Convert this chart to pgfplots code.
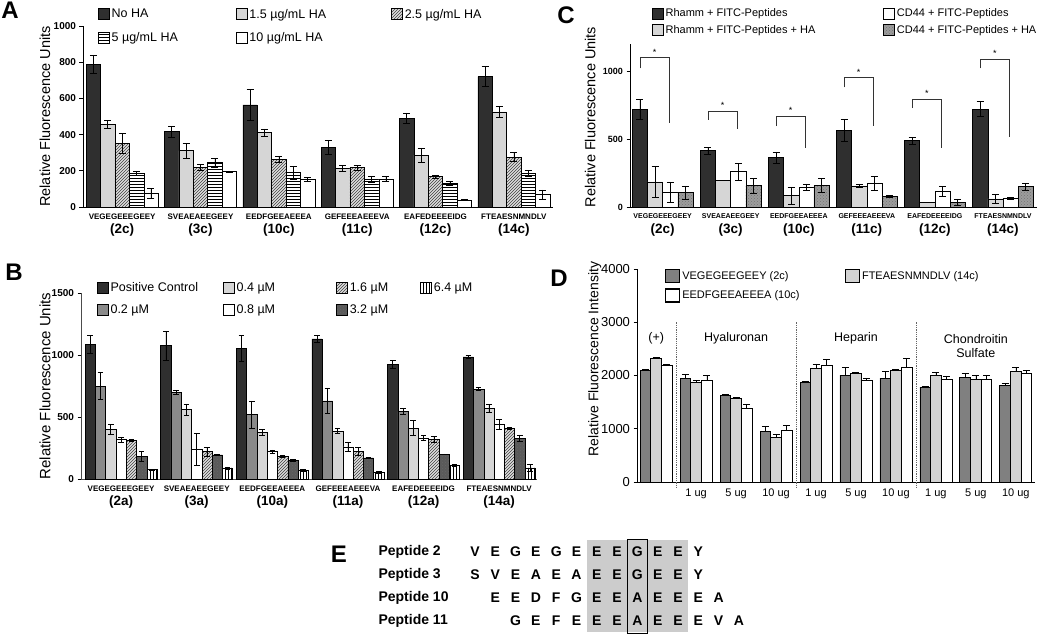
\documentclass[border=0pt]{standalone}
\usepackage{fontspec}
\setmainfont{Liberation Sans}
\usepackage{pgfplots}
\usepackage{pgfplotstable}
\pgfplotsset{compat=1.18}
\usetikzlibrary{patterns}

\definecolor{dk}{HTML}{2F2F2F}
\definecolor{lg}{HTML}{D6D6D6}
\definecolor{mg}{HTML}{8A8A8A}
\definecolor{dg}{HTML}{5A5A5A}
\definecolor{cg}{HTML}{9C9C9C}
\definecolor{dD}{HTML}{808080}
\definecolor{lD}{HTML}{D2D2D2}

\newcommand\pep[1]{{\fontsize{8}{8}\selectfont\bfseries #1}}
\newcommand\pepc[1]{{\fontsize{7}{7}\selectfont\bfseries #1}}
\newcommand\grp[1]{{\fontsize{13.5}{13.5}\selectfont\bfseries #1}}

\pgfplotsset{
  sqleg/.style={legend image code/.code={\draw[##1,line width=0.6pt] (0pt,-5.5pt) rectangle (11pt,5.5pt);}},
  sqlegD/.style={legend image code/.code={\draw[##1,line width=1.4pt] (0pt,-6.5pt) rectangle (14pt,6.5pt);}},
  eb/.style={/pgfplots/error bars/y dir=#1, /pgfplots/error bars/y explicit,
     /pgfplots/error bars/error mark=|,
     /pgfplots/error bars/error bar style={black, line width=0.6pt},
     /pgfplots/error bars/error mark options={black, line width=0.6pt, mark size=3.5pt}},
  bars/.style={ybar, bar width=#1, bar shift=0pt, draw=black, line width=0.5pt, sqleg, eb=both},
  base/.style={scale only axis, axis lines*=left, ymin=0, clip=false,
     axis line style={black, line width=0.7pt},
     tick align=outside, major tick length=3.5pt,
     xtick style={draw=none}, ytick style={black, line width=0.6pt},
     /pgf/number format/assume math mode=true,
     /pgf/number format/1000 sep={},
     legend cell align=left,
     legend style={draw=none, fill=none, inner sep=0pt, outer sep=0pt, anchor=north west},
     xticklabel style={align=center, font=\fontsize{8}{14}\selectfont},
     ylabel style={anchor=center, font=\fontsize{14.5}{14.5}\selectfont},
  },
}

\pgfplotstableread{
g a ae b be c ce d de e ee
0 790 50 457 20 352 55 185 12 75 28
1 416 30 311 40 220 15 245 25 195 3
2 564 85 411 20 263 18 190 35 153 12
3 330 40 213 15 217 15 152 18 155 15
4 490 30 287 40 168 8 131 12 38 3
5 720 55 525 30 275 25 185 15 70 25
}\tA

\pgfplotstableread{
g pc pce p2 p2e p4 p4e p8 p8e p16 p16e p32 p32e p64 p64e
0 1085 75 750 110 400 40 320 20 310 8 180 40 75 5
1 1075 120 700 15 560 45 240 130 220 35 195 5 90 8
2 1055 105 520 110 375 25 220 15 180 8 150 6 70 6
3 1130 25 630 100 385 20 260 40 225 30 170 5 55 5
4 925 30 545 25 410 60 330 20 320 25 200 3 110 5
5 985 10 725 12 570 30 440 40 410 8 330 25 90 25
}\tB

\pgfplotstableread{
g r re rh rhe c ce ch che
0 720 75 185 115 110 75 105 50
1 415 25 195 0 260 60 158 55
2 365 40 83 65 145 25 158 50
3 565 80 156 8 175 50 80 8
4 490 25 35 0 115 35 35 25
5 720 55 60 30 63 5 150 25
}\tC

\pgfplotstableread{
g a ae b be c ce
0 2090 30 2325 15 2194 15
1 1944 70 1875 30 1906 90
2 1619 30 1562 20 1375 85
3 950 95 838 60 969 95
4 1875 10 2138 80 2181 125
5 2006 140 2031 25 1900 45
6 1950 120 2088 30 2156 165
7 1781 10 2000 55 1919 75
8 1956 90 1931 65 1931 65
9 1813 35 2069 90 2044 50
}\tD

\begin{document}
\begin{tikzpicture}[x=1pt,y=1pt]
\path[use as bounding box] (0,0) rectangle (1050,641);

% ---------------- Panel A
\begin{axis}[base, at={(83pt,434pt)}, anchor=south west, width=470pt, height=181pt,
 xmin=-0.5, xmax=5.5, ymax=1000, ytick={0,200,...,1000},
 yticklabel style={font=\fontsize{10}{10}\selectfont\bfseries},
 xtick={0,...,5},
 xticklabels={{\pep{VEGEGEEEGEEY}\\\grp{(2c)}},{\pep{SVEAEAEEGEEY}\\\grp{(3c)}},{\pep{EEDFGEEAEEEA}\\\grp{(10c)}},{\pep{GEFEEEAEEEVA}\\\grp{(11c)}},{\pep{EAFEDEEEEIDG}\\\grp{(12c)}},{\pep{FTEAESNMNDLV}\\\grp{(14c)}}},
 ylabel={Relative Fluorescence Units}, ylabel style={at={(axis description cs:-0.081,0.5)}},
 legend columns=3,
 legend style={at={(0.032,1.105)}, font=\fontsize{12.5}{12.5}\selectfont, row sep=9pt,
   /tikz/column 2/.style={column sep=56pt}, /tikz/column 4/.style={column sep=63pt}},
]
\addplot[bars=0.184, fill=dk] table[x expr=\thisrow{g}-0.368,y=a,y error=ae]{\tA};
\addlegendentry{No HA}
\addplot[bars=0.184, fill=lg] table[x expr=\thisrow{g}-0.184,y=b,y error=be]{\tA};
\addlegendentry{1.5 µg/mL HA}
\addplot[bars=0.184, fill=lg!80, postaction={pattern=north east lines, pattern color=black!75}] table[x expr=\thisrow{g},y=c,y error=ce]{\tA};
\addlegendentry{2.5 µg/mL HA}
\addplot[bars=0.184, fill=white, postaction={pattern=horizontal lines}] table[x expr=\thisrow{g}+0.184,y=d,y error=de]{\tA};
\addlegendentry{5 µg/mL HA}
\addplot[bars=0.184, fill=white] table[x expr=\thisrow{g}+0.368,y=e,y error=ee]{\tA};
\addlegendentry{10 µg/mL HA}
\end{axis}
\node[font=\fontsize{24}{24}\selectfont\bfseries] at (10,631) {A};

% ---------------- Panel B
\begin{axis}[base, at={(81pt,162pt)}, anchor=south west, width=456pt, height=186pt,
 xmin=-0.53, xmax=5.5, ymax=1500, ytick={0,500,1000,1500},
 axis line style={black!70, line width=0.7pt},
 yticklabel style={font=\fontsize{10}{10}\selectfont\bfseries},
 xtick={0,...,5},
 xticklabels={{\pep{VEGEGEEEGEEY}\\\grp{(2a)}},{\pep{SVEAEAEEGEEY}\\\grp{(3a)}},{\pep{EEDFGEEAEEEA}\\\grp{(10a)}},{\pep{GEFEEEAEEEVA}\\\grp{(11a)}},{\pep{EAFEDEEEEIDG}\\\grp{(12a)}},{\pep{FTEAESNMNDLV}\\\grp{(14a)}}},
 ylabel={Relative Fluorescence Units}, ylabel style={at={(axis description cs:-0.079,0.5)}, font=\fontsize{15}{15}\selectfont},
 legend columns=4,
 legend style={at={(0.035,1.065)}, font=\fontsize{12.5}{12.5}\selectfont, row sep=7pt,
   /tikz/column 2/.style={column sep=23pt}, /tikz/column 4/.style={column sep=59pt}, /tikz/column 6/.style={column sep=30pt}},
]
\addplot[bars=0.136, fill=dk, /pgfplots/error bars/error mark options={black,line width=0.6pt,mark size=2.8pt}] table[x expr=\thisrow{g}-0.408,y=pc,y error=pce]{\tB};
\addlegendentry{Positive Control}
\addplot[bars=0.136, fill=lg, /pgfplots/error bars/error mark options={black,line width=0.6pt,mark size=2.8pt}] table[x expr=\thisrow{g}-0.136,y=p4,y error=p4e]{\tB};
\addlegendentry{0.4 µM}
\addplot[bars=0.136, fill=lg!80, postaction={pattern=north east lines, pattern color=black!75}, /pgfplots/error bars/error mark options={black,line width=0.6pt,mark size=2.8pt}] table[x expr=\thisrow{g}+0.136,y=p16,y error=p16e]{\tB};
\addlegendentry{1.6 µM}
\addplot[bars=0.136, fill=white, postaction={pattern=vertical lines}, /pgfplots/error bars/error mark options={black,line width=0.6pt,mark size=2.8pt}] table[x expr=\thisrow{g}+0.408,y=p64,y error=p64e]{\tB};
\addlegendentry{6.4 µM}
\addplot[bars=0.136, fill=mg, /pgfplots/error bars/error mark options={black,line width=0.6pt,mark size=2.8pt}] table[x expr=\thisrow{g}-0.272,y=p2,y error=p2e]{\tB};
\addlegendentry{0.2 µM}
\addplot[bars=0.136, fill=white, /pgfplots/error bars/error mark options={black,line width=0.6pt,mark size=2.8pt}] table[x expr=\thisrow{g},y=p8,y error=p8e]{\tB};
\addlegendentry{0.8 µM}
\addplot[bars=0.136, fill=dg, postaction={pattern=crosshatch dots, pattern color=black!60}, /pgfplots/error bars/error mark options={black,line width=0.6pt,mark size=2.8pt}] table[x expr=\thisrow{g}+0.272,y=p32,y error=p32e]{\tB};
\addlegendentry{3.2 µM}
\end{axis}
\node[font=\fontsize{24}{24}\selectfont\bfseries] at (14,369) {B};

% ---------------- Panel C
\begin{axis}[base, at={(630pt,434pt)}, anchor=south west, width=407pt, height=163pt,
 xmin=-0.48, xmax=5.5, ymax=1200, ytick={0,500,1000},
 yticklabel style={font=\fontsize{9}{9}\selectfont\bfseries},
 xtick={0,...,5},
 xticklabel style={font=\fontsize{7}{15}\selectfont},
 xticklabels={{\pepc{VEGEGEEEGEEY}\\\grp{(2c)}},{\pepc{SVEAEAEEGEEY}\\\grp{(3c)}},{\pepc{EEDFGEEAEEEA}\\\grp{(10c)}},{\pepc{GEFEEEAEEEVA}\\\grp{(11c)}},{\pepc{EAFEDEEEEIDG}\\\grp{(12c)}},{\pepc{FTEAESNMNDLV}\\\grp{(14c)}}},
 ylabel={Relative Fluorescence Units}, ylabel style={at={(axis description cs:-0.098,0.552)}},
 legend columns=2,
 legend style={at={(0.054,1.227)}, font=\fontsize{11}{11}\selectfont, row sep=3pt,
   /tikz/column 2/.style={column sep=66pt}},
]
\addplot[bars=0.223, fill=dk] table[x expr=\thisrow{g}-0.3345,y=r,y error=re]{\tC};
\addlegendentry{Rhamm + FITC-Peptides}
\addplot[bars=0.223, fill=white] table[x expr=\thisrow{g}+0.1115,y=c,y error=ce]{\tC};
\addlegendentry{CD44 + FITC-Peptides}
\addplot[bars=0.223, fill=lg] table[x expr=\thisrow{g}-0.1115,y=rh,y error=rhe]{\tC};
\addlegendentry{Rhamm + FITC-Peptides + HA}
\addplot[bars=0.223, fill=cg, postaction={pattern=crosshatch dots, pattern color=black!55}] table[x expr=\thisrow{g}+0.3345,y=ch,y error=che]{\tC};
\addlegendentry{CD44 + FITC-Peptides + HA}
% significance brackets
\addplot[black!80, line width=0.6pt, forget plot] coordinates {(-0.334,1021) (-0.334,1102) (0.09,1102) (0.09,616)};
\addplot[black!80, line width=0.6pt, forget plot] coordinates {(0.666,641) (0.666,707) (1.09,707) (1.09,572)};
\addplot[black!80, line width=0.6pt, forget plot] coordinates {(1.666,596) (1.666,670) (2.09,670) (2.09,432)};
\addplot[black!80, line width=0.6pt, forget plot] coordinates {(2.666,881) (2.666,955) (3.09,955) (3.09,596)};
\addplot[black!80, line width=0.6pt, forget plot] coordinates {(3.666,727) (3.666,795) (4.09,795) (4.09,437)};
\addplot[black!80, line width=0.6pt, forget plot] coordinates {(4.666,1021) (4.666,1090) (5.09,1090) (5.09,518)};
\node[font=\fontsize{9}{9}\selectfont] at (axis cs:-0.12,1140) {*};
\node[font=\fontsize{9}{9}\selectfont] at (axis cs:0.88,745) {*};
\node[font=\fontsize{9}{9}\selectfont] at (axis cs:1.88,708) {*};
\node[font=\fontsize{9}{9}\selectfont] at (axis cs:2.88,993) {*};
\node[font=\fontsize{9}{9}\selectfont] at (axis cs:3.88,833) {*};
\node[font=\fontsize{9}{9}\selectfont] at (axis cs:4.88,1128) {*};
\end{axis}
\node[font=\fontsize{24}{24}\selectfont\bfseries] at (566,626) {C};

% ---------------- Panel D
\begin{axis}[base, at={(637pt,159pt)}, anchor=south west, width=398pt, height=213pt,
 xmin=-0.48, xmax=9.48, ymax=4000, ytick={0,1000,...,4000},
 yticklabel style={font=\fontsize{13}{13}\selectfont},
 xtick={1,...,9},
 xticklabel style={font=\fontsize{11}{11}\selectfont},
 xticklabels={1 ug,5 ug,10 ug,1 ug,5 ug,10 ug,1 ug,5 ug,10 ug},
 ylabel={Relative Fluorescence Intensity}, ylabel style={at={(axis description cs:-0.106,0.577)}, font=\fontsize{14}{14}\selectfont},
 legend columns=2,
 legend style={at={(0.07,1.0)}, font=\fontsize{11}{11}\selectfont, row sep=5pt,
   /tikz/column 2/.style={column sep=43pt}},
]
\addplot[bars=0.267, fill=dD, line width=0.8pt, sqlegD, eb=plus] table[x expr=\thisrow{g}-0.267,y=a,y error=ae]{\tD};
\addlegendentry{VEGEGEEGEEY (2c)}
\addplot[bars=0.267, fill=lD, line width=0.8pt, sqlegD, eb=plus] table[x expr=\thisrow{g},y=b,y error=be]{\tD};
\addlegendentry{FTEAESNMNDLV (14c)}
\addplot[bars=0.267, fill=white, line width=0.8pt, sqlegD, eb=plus] table[x expr=\thisrow{g}+0.267,y=c,y error=ce]{\tD};
\addlegendentry{EEDFGEEAEEEA (10c)}
\addplot[densely dotted, black!60, line width=0.8pt, forget plot] coordinates {(0.5,-110) (0.5,3005)};
\addplot[densely dotted, black!60, line width=0.8pt, forget plot] coordinates {(3.5,-110) (3.5,3005)};
\addplot[densely dotted, black!60, line width=0.8pt, forget plot] coordinates {(6.5,-110) (6.5,3005)};
\node[font=\fontsize{12.5}{14}\selectfont] at (axis cs:0,2700) {(+)};
\node[font=\fontsize{12.5}{14}\selectfont] at (axis cs:2,2700) {Hyaluronan};
\node[font=\fontsize{12.5}{14}\selectfont] at (axis cs:5,2700) {Heparin};
\node[font=\fontsize{12.5}{14}\selectfont, align=center] at (axis cs:8,2557) {Chondroitin\\Sulfate};
\end{axis}
\node[font=\fontsize{24}{24}\selectfont\bfseries] at (559,363) {D};

% ---------------- Panel E
\node[font=\fontsize{24}{24}\selectfont\bfseries] at (339,87) {E};
\fill[black!20] (587,9) rectangle (688,101);
\draw[line width=1pt] (627,8) rectangle (647,102);
\foreach \lab/\yy in {Peptide 2/89, Peptide 3/66, Peptide 10/43, Peptide 11/20}
  \node[anchor=west, font=\fontsize{14}{14}\selectfont\bfseries] at (375,\yy) {\lab};
\foreach \c [count=\k from 0] in {V,E,G,E,G,E,E,E,G,E,E,Y}
  \node[font=\fontsize{14}{14}\selectfont\bfseries] at (475+20.3*\k,89) {\c};
\foreach \c [count=\k from 0] in {S,V,E,A,E,A,E,E,G,E,E,Y}
  \node[font=\fontsize{14}{14}\selectfont\bfseries] at (475+20.3*\k,66) {\c};
\foreach \c [count=\k from 1] in {E,E,D,F,G,E,E,A,E,E,E,A}
  \node[font=\fontsize{14}{14}\selectfont\bfseries] at (475+20.3*\k,43) {\c};
\foreach \c [count=\k from 2] in {G,E,F,E,E,E,A,E,E,E,V,A}
  \node[font=\fontsize{14}{14}\selectfont\bfseries] at (475+20.3*\k,20) {\c};
\end{tikzpicture}
\end{document}
